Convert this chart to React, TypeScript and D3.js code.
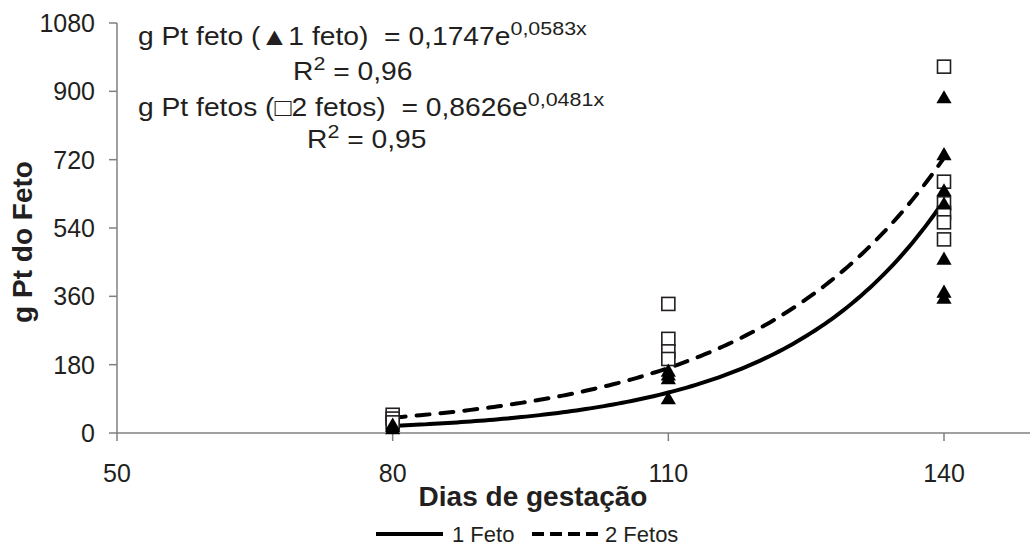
import React from "react";
import * as d3 from "d3";

const xTicks = [50, 80, 110, 140];
const yTicks = [0, 180, 360, 540, 720, 900, 1080];

// observed points: [day, value]
const oneFetoPoints: [number, number][] = [
  [80, 8], [80, 14], [80, 18],
  [110, 87], [110, 140], [110, 150], [110, 160],
  [140, 880], [140, 730], [140, 635], [140, 600], [140, 455], [140, 368], [140, 352],
];
const twoFetosPoints: [number, number][] = [
  [80, 48], [80, 38], [80, 28],
  [110, 340], [110, 248], [110, 215], [110, 195],
  [140, 965], [140, 662], [140, 605], [140, 580], [140, 555], [140, 510],
];

// trend equations: a * e^(b x)
const trendA = [0.1747, 0.8626];
const trendB = [0.0583, 0.0481];
const trendRange = [80, 140];

const W = 1030, H = 546;
const TXT = "#231f20";
const FONT = "Liberation Sans, Arial, sans-serif";
const SX = 1.13;
const NB = "\u00a0";

export default function App() {
  const x = d3.scaleLinear().domain([50, 140]).range([117, 944]);
  const y = d3.scaleLinear().domain([0, 1080]).range([433, 23]);

  const curve = (k: number) => {
    const pts: [number, number][] = [];
    for (let d = trendRange[0]; d <= trendRange[1] + 1e-9; d += 0.5) {
      pts.push([d, trendA[k] * Math.exp(trendB[k] * d)]);
    }
    return d3.line<[number, number]>().x(p => x(p[0])).y(p => y(p[1]))(pts) || "";
  };

  const tri = d3.symbol().type(d3.symbolTriangle).size(100)() || "";
  const sq = 13;

  return (
    <svg width={W} height={H} style={{ position: "absolute", left: 0, top: 0 }} fontFamily={FONT}>
      <rect x={0} y={0} width={W} height={H} fill="#fff" />
      {/* axes */}
      <line x1={117} x2={117} y1={y(1080)} y2={y(0)} stroke="#808080" strokeWidth={1.5} />
      <line x1={117} x2={W} y1={y(0)} y2={y(0)} stroke="#808080" strokeWidth={1.5} />
      {yTicks.map(t => (
        <g key={"y" + t}>
          <line x1={109} x2={117} y1={y(t)} y2={y(t)} stroke="#808080" strokeWidth={1.5} />
          <text x={95} y={y(t) + 9} textAnchor="end" fontSize={25} fill={TXT}>{t}</text>
        </g>
      ))}
      {xTicks.map(t => (
        <g key={"x" + t}>
          <line x1={x(t)} x2={x(t)} y1={y(0)} y2={y(0) + 8} stroke="#808080" strokeWidth={1.5} />
          <text x={x(t)} y={482} textAnchor="middle" fontSize={25} fill={TXT}>{t}</text>
        </g>
      ))}
      {/* titles */}
      <text x={533} y={506} textAnchor="middle" fontSize={28} fontWeight="bold" fill={TXT}>Dias de gestação</text>
      <text transform="translate(32,242) rotate(-90)" textAnchor="middle" fontSize={28} fontWeight="bold" fill={TXT}>g Pt do Feto</text>

      {/* trend lines */}
      <path d={curve(0)} fill="none" stroke="#000" strokeWidth={4} />
      <path d={curve(1)} fill="none" stroke="#000" strokeWidth={4} strokeDasharray="13 11" strokeLinecap="round" />

      {/* points */}
      {twoFetosPoints.map((p, i) => (
        <rect key={"s" + i} x={x(p[0]) - sq / 2} y={y(p[1]) - sq / 2} width={sq} height={sq}
          fill="#fff" stroke="#231f20" strokeWidth={1.6} />
      ))}
      {oneFetoPoints.map((p, i) => (
        <path key={"t" + i} d={tri} transform={`translate(${x(p[0])},${y(p[1])})`} fill="#000" />
      ))}

      {/* equations */}
      <g fontSize={25} fill={TXT}>
        <text transform={`translate(138,45) scale(${SX},1)`}>
          {`g Pt feto (▲1 feto)${NB} = 0,1747e`}<tspan fontSize={19} dy={-10}>0,0583x</tspan>
        </text>
        <text transform={`translate(293,80) scale(${SX},1)`}>
          R<tspan fontSize={19} dy={-10}>2</tspan><tspan dy={10}> = 0,96</tspan>
        </text>
        <text transform={`translate(138,116) scale(${SX},1)`}>
          {`g Pt fetos (□2 fetos)${NB} = 0,8626e`}<tspan fontSize={19} dy={-10}>0,0481x</tspan>
        </text>
        <text transform={`translate(307,148) scale(${SX},1)`}>
          R<tspan fontSize={19} dy={-10}>2</tspan><tspan dy={10}> = 0,95</tspan>
        </text>
      </g>

      {/* legend */}
      <line x1={376} x2={443} y1={534} y2={534} stroke="#000" strokeWidth={4} />
      <text x={452} y={542} fontSize={22} fill={TXT}>1 Feto</text>
      <line x1={532} x2={600} y1={534} y2={534} stroke="#000" strokeWidth={4} strokeDasharray="12 6" />
      <text x={605} y={542} fontSize={22} fill={TXT}>2 Fetos</text>
    </svg>
  );
}
